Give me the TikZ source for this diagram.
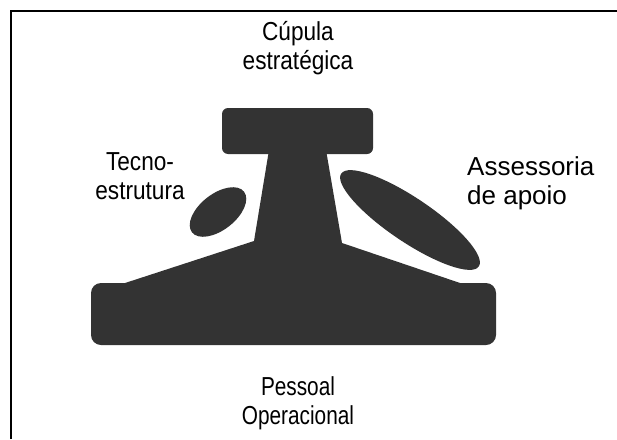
\documentclass[tikz,border=0pt]{standalone}
\usepackage{fontspec}
\setmainfont{Liberation Sans}[FakeStretch=0.87]
\newfontfamily\widesans{Liberation Sans}
\newfontfamily\narrowsans{Liberation Sans}[FakeStretch=0.8]
\definecolor{shapegray}{RGB}{51,51,51}
\begin{document}
\begin{tikzpicture}[x=1pt,y=-1pt,
  shapefill/.style={fill=shapegray},
  label/.style={font=\fontsize{26}{29}\selectfont, inner sep=0pt, text=black},
  frame/.style={draw=black, line width=2pt}]
\useasboundingbox (0,0) rectangle (617,439);
% frame (top and left only)
\draw[frame] (11,439) -- (11,11) -- (617,11);
% cap
\fill[shapefill, rounded corners=6pt] (222,108) rectangle (373,154);
% stem and slopes
\fill[shapefill] (269,150) -- (326,150) -- (342,243) -- (463,284) -- (122,284) -- (254,241) -- cycle;
% base
\fill[shapefill, rounded corners=10pt] (91,283) rectangle (496,345);
% techno-structure ellipse
\fill[shapefill, rotate around={38:(218,212)}] (218,212) ellipse [x radius=33, y radius=18];
% support staff ellipse
\fill[shapefill, rotate around={-34:(410,220)}] (410,220) ellipse [x radius=83, y radius=22];
% labels
\node[label, align=center] (top) at (298,48) {Cúpula\\estratégica};
\node[label, align=center] (tech) at (140,176) {Tecno-\\estrutura};
\node[label, font=\widesans\fontsize{26}{29}\selectfont, align=left, anchor=west] (supp) at (467,183) {Assessoria\\de apoio};
\node[label, font=\narrowsans\fontsize{26}{29}\selectfont, align=center] (ops) at (298,403) {Pessoal\\Operacional};
\end{tikzpicture}
\end{document}
